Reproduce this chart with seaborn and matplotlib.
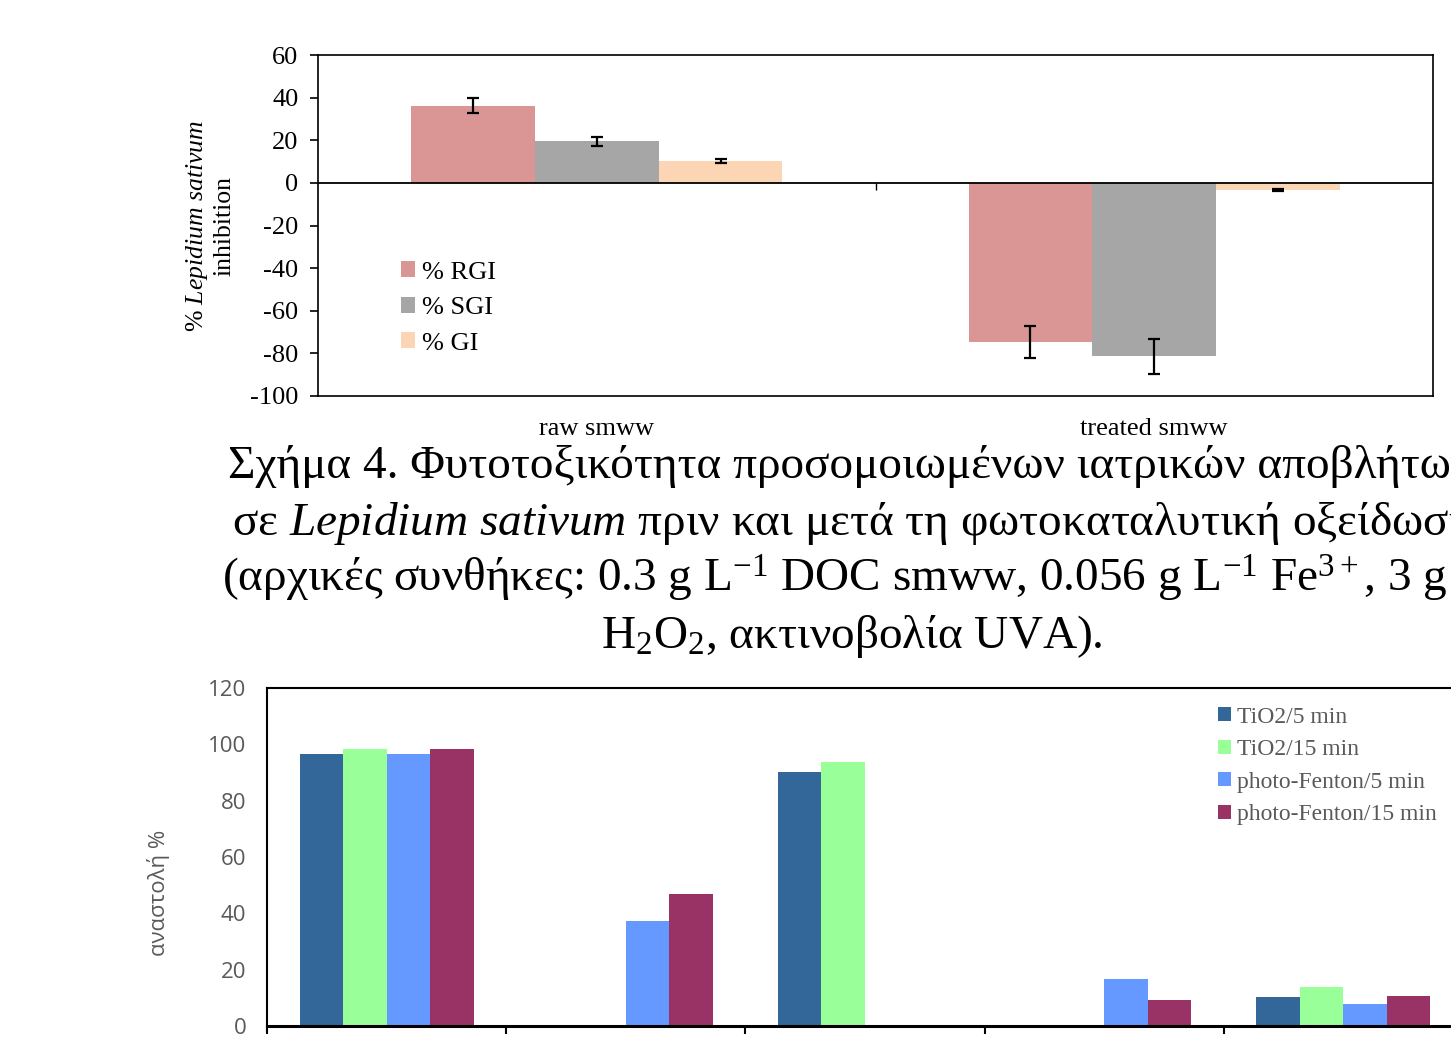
import matplotlib
matplotlib.use('Agg')
import matplotlib.pyplot as plt
import numpy as np
import pandas as pd
import seaborn as sns

# --- Top chart: Lepidium sativum inhibition ---
top_groups = ['raw smww', 'treated smww']
top_series = ['% RGI', '% SGI', '% GI']
rgi = [36.2, -74.8]
sgi = [19.5, -81.3]
gi = [10.3, -3.3]
rgi_err = [3.6, 7.6]
sgi_err = [2.0, 8.2]
gi_err = [1.0, 0.6]
top_colors = ['#D99694', '#A6A6A6', '#FCD5B5']

# --- Bottom chart: αναστολή % (category labels are cut off in the source) ---
bottom_groups = ['c1', 'c2', 'c3', 'c4', 'c5']
bottom_series = ['TiO2/5 min', 'TiO2/15 min', 'photo-Fenton/5 min', 'photo-Fenton/15 min']
tio2_5 = [96.6, np.nan, 90.2, np.nan, 10.3]
tio2_15 = [98.3, np.nan, 93.7, np.nan, 13.8]
pf_5 = [96.6, 37.3, np.nan, 16.7, 7.8]
pf_15 = [98.3, 46.9, np.nan, 9.2, 10.6]
bottom_colors = ['#336699', '#99FF99', '#6699FF', '#993366']

caption_lines = [
    'Σχήμα 4. Φυτοτοξικότητα προσομοιωμένων ιατρικών αποβλήτων',
    r'σε $\mathit{Lepidium\ sativum}$ πριν και μετά τη φωτοκαταλυτική οξείδωση',
    r'(αρχικές συνθήκες: 0.3 g L$^{-1}$ DOC smww, 0.056 g L$^{-1}$ Fe$^{3+}$, 3 g L$^{-1}$',
    r'H$_2$O$_2$, ακτινοβολία UVA).',
]

sns.set_style('white')
plt.rcParams['font.family'] = ['Liberation Serif', 'DejaVu Serif']
plt.rcParams['mathtext.fontset'] = 'custom'
plt.rcParams['mathtext.rm'] = 'Liberation Serif'
plt.rcParams['mathtext.it'] = 'Liberation Serif:italic'
plt.rcParams['mathtext.bf'] = 'Liberation Serif:bold'
plt.rcParams['axes.unicode_minus'] = False
for key in ['text.color', 'axes.labelcolor', 'xtick.color', 'ytick.color']:
    plt.rcParams[key] = 'black'

W, H = 1451, 1048
fig = plt.figure(figsize=(W / 100, H / 100), dpi=100)


def box(x0, y0, x1, y1):
    return [x0 / W, 1 - y1 / H, (x1 - x0) / W, (y1 - y0) / H]


# ---------------- top chart ----------------
ax1 = fig.add_axes(box(318, 55, 1433, 396))
df_top = pd.DataFrame({
    'group': top_groups * 3,
    'series': [s for s in top_series for _ in top_groups],
    'value': rgi + sgi + gi,
})
sns.barplot(data=df_top, x='group', y='value', hue='series', palette=top_colors,
            width=0.666, saturation=1, linewidth=0, errorbar=None, ax=ax1)

for cont, errs in zip(ax1.containers, [rgi_err, sgi_err, gi_err]):
    for bar, e in zip(cont, errs):
        xc = bar.get_x() + bar.get_width() / 2
        yv = bar.get_y() + bar.get_height()
        ax1.errorbar(xc, yv, yerr=e, color='black', lw=1.6, capsize=4.5, capthick=1.6, zorder=5)

ax1.set_ylim(-100, 60)
ax1.set_yticks(range(-100, 61, 20))
ax1.set_xlim(-0.5, 1.5)
ax1.axhline(0, color='black', lw=1.3, zorder=4)
ax1.vlines([0.5], -3.5, 0, color='black', lw=1, zorder=4)
ax1.set_xlabel('')
ax1.set_ylabel('')
ax1.tick_params(axis='x', length=0, pad=16, labelsize=19)
ax1.tick_params(axis='y', direction='out', length=6, width=1.2, pad=8, labelsize=19, left=True)
for sp in ax1.spines.values():
    sp.set_color('black')
    sp.set_linewidth(1.2)

handles, labels = ax1.get_legend_handles_labels()
ax1.legend(handles, labels, loc='upper left', bbox_to_anchor=(0.074, 0.395), frameon=False,
           fontsize=19, handlelength=0.55, handleheight=0.55, handletextpad=0.25,
           labelspacing=0.5, borderpad=0, borderaxespad=0)

fig.text(210 / W, 1 - 226 / H, '% $\\mathit{Lepidium\\ sativum}$\ninhibition', rotation=90,
         ha='center', va='center', multialignment='center', fontsize=18.5)

# ---------------- caption (runs past the right edge, as in the source page) ----------------
caption_x = [228, 232, 222, 601]
caption_base = [478, 535, 592, 648]
for txt, xx, yy in zip(caption_lines, caption_x, caption_base):
    fig.text(xx / W, 1 - yy / H, txt, ha='left', va='baseline', fontsize=34)

# ---------------- bottom chart ----------------
ax2 = fig.add_axes(box(267, 688, 1463, 1026))
df_bot = pd.DataFrame({
    'group': bottom_groups * 4,
    'series': [s for s in bottom_series for _ in bottom_groups],
    'value': tio2_5 + tio2_15 + pf_5 + pf_15,
})
sns.barplot(data=df_bot, x='group', y='value', hue='series', palette=bottom_colors,
            width=0.728, saturation=1, linewidth=0, errorbar=None, ax=ax2)
ax2.set_ylim(0, 120)
ax2.set_yticks(range(0, 121, 20))
ax2.set_xlim(-0.5, 4.5)
ax2.set_xticks(np.arange(-0.5, 4.6, 1.0))
ax2.set_xticklabels([])
ax2.set_xlabel('')
ax2.set_ylabel('')
ax2.tick_params(axis='x', direction='out', length=6, width=1.5, bottom=True)
ax2.tick_params(axis='y', length=0, pad=15)
for lab in ax2.get_yticklabels():
    lab.set_family(['Open Sans', 'DejaVu Sans'])
    lab.set_fontsize(16)
    lab.set_color('#595959')
for name, sp in ax2.spines.items():
    sp.set_color('black')
    sp.set_linewidth(2.2 if name == 'bottom' else 1.5)

handles, labels = ax2.get_legend_handles_labels()
leg = ax2.legend(handles, labels, loc='upper left', bbox_to_anchor=(0.795, 0.945), frameon=False,
                 fontsize=17, handlelength=0.55, handleheight=0.55, handletextpad=0.25,
                 labelspacing=0.49, borderpad=0, borderaxespad=0)
for t in leg.get_texts():
    t.set_color('#595959')

fig.text(158 / W, 1 - 893 / H, 'αναστολή %', rotation=90, ha='center', va='center',
         fontsize=16, color='#595959', family=['Open Sans', 'DejaVu Sans'])

fig.savefig('out.png', dpi=100)
